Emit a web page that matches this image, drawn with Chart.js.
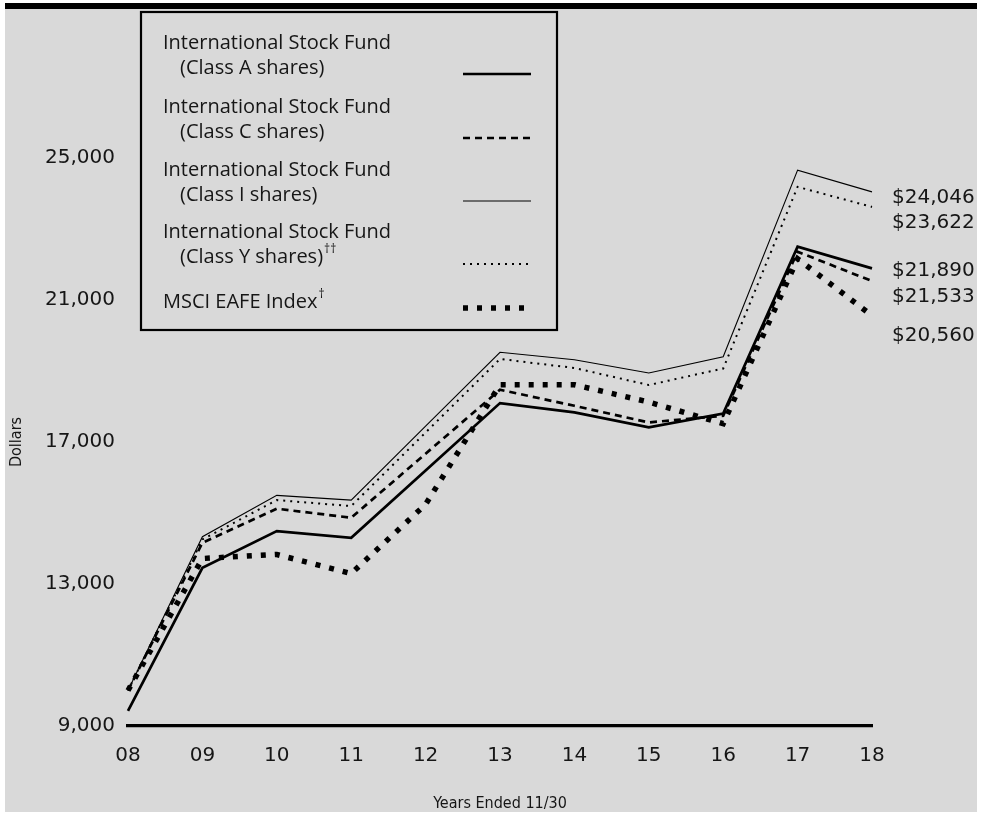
<!DOCTYPE html>
<html>
<head>
<meta charset="utf-8">
<script src="https://cdn.jsdelivr.net/npm/chart.js@4/dist/chart.umd.min.js"></script>
<style>
  html, body { margin: 0; padding: 0; background: #ffffff; }
  #wrap { width: 984px; height: 814px; position: relative; }
  canvas { display: block; }
</style>
</head>
<body>
<div id="wrap"><canvas id="c" width="984" height="814"></canvas></div>
<script>
// Fiscal years (ended 11/30)
const years = ['08', '09', '10', '11', '12', '13', '14', '15', '16', '17', '18'];

// Growth of a $10,000 investment, in dollars
const classA = [9425, 13455, 14489, 14302, 16200, 18096, 17833, 17410, 17800, 22503, 21890];
const classC = [10000, 14161, 15121, 14867, 16670, 18472, 18020, 17551, 17740, 22361, 21533];
const classI = [10000, 14331, 15497, 15364, 17446, 19528, 19319, 18944, 19400, 24659, 24046];
const classY = [10000, 14254, 15364, 15195, 17267, 19339, 19085, 18605, 19070, 24187, 23622];
const eafe   = [10000, 13718, 13831, 13294, 15243, 18613, 18613, 18124, 17515, 22162, 20560];

// Y-axis tick values
const yTicks = [9000, 13000, 17000, 21000, 25000];

// Legend captions: [first line, second line, superscript]
const seriesNames = [
  ['International Stock Fund', '(Class A shares)', ''],
  ['International Stock Fund', '(Class C shares)', ''],
  ['International Stock Fund', '(Class I shares)', ''],
  ['International Stock Fund', '(Class Y shares)', '\u2020\u2020'],
  ['MSCI EAFE Index', '', '\u2020']
];

const TEXT_FONT = '"Open Sans", "Liberation Sans", sans-serif';
const NUM_FONT = '"DejaVu Sans", "Open Sans", sans-serif';
const COND_FONT = '"DejaVu Sans Condensed", "Liberation Sans Narrow", "Open Sans", sans-serif';
const BG = '#d9d9d9';
const INK = '#161616';

// Line styles per series: A, C, I, Y, EAFE
const styles = [
  { width: 2.7, dash: [] },
  { width: 2.7, dash: [7, 5] },
  { width: 1.1, dash: [] },
  { width: 2.0, dash: [2, 5] },
  { width: 5.5, dash: [5, 9] }
];

const seriesData = [classA, classC, classI, classY, eafe];

const fmt = v => v.toLocaleString('en-US');

// Background, top rule, legend box and ending-value labels
const decor = {
  id: 'decor',
  beforeDraw(chart) {
    const ctx = chart.ctx;
    ctx.save();
    ctx.fillStyle = '#ffffff';
    ctx.fillRect(0, 0, chart.width, chart.height);
    ctx.fillStyle = BG;
    ctx.fillRect(5, 8, 972, 804);
    ctx.fillStyle = '#000000';
    ctx.fillRect(5, 3, 972, 6);
    ctx.restore();
  },
  afterDatasetsDraw(chart) {
    const ctx = chart.ctx;
    const yScale = chart.scales.y;
    ctx.save();

    // Legend box
    const bx = 141, by = 12, bw = 416, bh = 318;
    ctx.fillStyle = BG;
    ctx.fillRect(bx, by, bw, bh);
    ctx.strokeStyle = '#000';
    ctx.lineWidth = 2.2;
    ctx.strokeRect(bx, by, bw, bh);

    ctx.fillStyle = INK;
    ctx.textBaseline = 'middle';
    ctx.textAlign = 'left';
    const rowTop = [43, 107, 170, 232, 302];
    const sampleY = [74, 138, 201, 264, 308];
    seriesNames.forEach((entry, i) => {
      const y0 = rowTop[i];
      const [l1, l2, sup] = entry;
      ctx.font = '20px ' + TEXT_FONT;
      ctx.fillText(l1, 163, y0);
      let lastX = 163 + ctx.measureText(l1).width, lastY = y0;
      if (l2) {
        ctx.fillText(l2, 180, y0 + 25);
        lastX = 180 + ctx.measureText(l2).width;
        lastY = y0 + 25;
      }
      if (sup) {
        ctx.font = '12px ' + TEXT_FONT;
        ctx.fillText(sup, lastX + 1, lastY - 7);
      }
      const st = styles[i];
      ctx.beginPath();
      ctx.setLineDash(st.dash);
      ctx.lineWidth = st.width;
      ctx.lineCap = 'butt';
      ctx.strokeStyle = '#000';
      ctx.moveTo(463, sampleY[i]);
      ctx.lineTo(531, sampleY[i]);
      ctx.stroke();
    });
    ctx.setLineDash([]);

    // Ending values at the right of the plot
    ctx.font = '20px ' + NUM_FONT;
    ctx.fillStyle = INK;
    const order = [2, 3, 0, 1, 4];
    const nudge = [6, 16, 2, 16, 20];
    let prev = -Infinity;
    order.forEach((si, k) => {
      const v = seriesData[si][seriesData[si].length - 1];
      let y = yScale.getPixelForValue(v) + nudge[k];
      if (y < prev + 23) y = prev + 23;
      prev = y;
      ctx.fillText('$' + fmt(v), 892, y);
    });
    ctx.restore();
  }
};

const datasets = seriesData.map((d, i) => ({
  label: seriesNames[i][0] + ' ' + seriesNames[i][1],
  data: d,
  borderColor: '#000',
  backgroundColor: '#000',
  borderWidth: styles[i].width,
  borderDash: styles[i].dash,
  borderCapStyle: 'butt',
  borderJoinStyle: 'miter',
  pointRadius: 0,
  tension: 0,
  fill: false,
  clip: false
}));

new Chart(document.getElementById('c'), {
  type: 'line',
  data: { labels: years, datasets: datasets.reverse() },
  options: {
    responsive: false,
    animation: false,
    events: [],
    layout: { padding: { left: 0, right: 112, top: 158, bottom: 0 } },
    plugins: { legend: { display: false }, tooltip: { enabled: false } },
    scales: {
      x: {
        type: 'category',
        offset: false,
        grid: { display: false, drawTicks: false },
        border: { display: true, color: '#000', width: 3.2 },
        ticks: {
          color: INK,
          font: { family: NUM_FONT, size: 20 },
          padding: 18,
          maxRotation: 0,
          autoSkip: false
        },
        title: {
          display: true,
          text: 'Years Ended 11/30',
          color: INK,
          font: { family: COND_FONT, size: 16 },
          padding: { top: 0, bottom: 1 }
        },
        afterFit(scale) { scale.height = 814 - 726; }
      },
      y: {
        min: 9000,
        max: 25000,
        grid: { display: false, drawTicks: false },
        border: { display: false },
        afterBuildTicks(scale) { scale.ticks = yTicks.map(v => ({ value: v })); },
        ticks: {
          color: INK,
          font: { family: NUM_FONT, size: 20 },
          padding: 13,
          callback: v => fmt(v)
        },
        title: {
          display: true,
          text: 'Dollars',
          color: INK,
          font: { family: COND_FONT, size: 16 },
          padding: { top: 7, bottom: 0 }
        },
        afterFit(scale) { scale.width = 128; }
      }
    }
  },
  plugins: [decor]
});
</script>
</body>
</html>
